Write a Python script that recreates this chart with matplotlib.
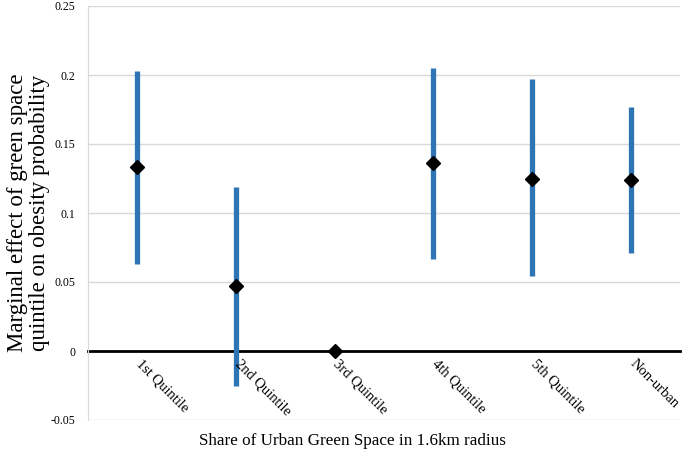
import matplotlib
matplotlib.use('Agg')
import matplotlib.pyplot as plt
import numpy as np

plt.rcParams['font.family'] = ['Liberation Serif', 'DejaVu Serif']

categories = ['1st Quintile', '2nd Quintile', '3rd Quintile', '4th Quintile', '5th Quintile', 'Non-urban']
estimate = [0.133, 0.047, 0.0, 0.136, 0.125, 0.124]
lower = [0.063, -0.025, 0.0, 0.067, 0.054, 0.071]
upper = [0.203, 0.119, 0.0, 0.205, 0.197, 0.177]
yticks = [-0.05, 0, 0.05, 0.1, 0.15, 0.2, 0.25]
ytick_labels = ['-0.05', '0', '0.05', '0.1', '0.15', '0.2', '0.25']

fig = plt.figure(figsize=(6.83, 4.57), dpi=100)
ax = fig.add_axes([88 / 683, 1 - 420 / 457, 592 / 683, 414 / 457])

x = np.arange(len(categories))
for i in range(len(categories)):
    if upper[i] != lower[i]:
        ax.vlines(x[i], lower[i], upper[i], color='#2E75B6', linewidth=3.8, zorder=3)
ax.plot(x, estimate, linestyle='none', marker='D', markersize=7,
        color='black', zorder=4, clip_on=False)

ax.set_xlim(-0.5, len(categories) - 0.5)
ax.set_ylim(-0.05, 0.25)
ax.set_yticks(yticks)
ax.set_yticklabels(ytick_labels, fontsize=8.5)
ax.yaxis.grid(True, color='#D9D9D9', linewidth=1)
ax.set_axisbelow(True)
ax.tick_params(axis='y', length=0, pad=9)
ax.tick_params(axis='x', length=0)

ax.spines['top'].set_visible(False)
ax.spines['right'].set_visible(False)
ax.spines['left'].set_color('#D9D9D9')
ax.spines['bottom'].set_position(('data', 0))
ax.spines['bottom'].set_color('black')
ax.spines['bottom'].set_linewidth(2)
ax.spines['bottom'].set_zorder(2)

ax.set_xticks(x)
ax.set_xticklabels([])
for i, lab in enumerate(categories):
    ax.annotate(lab, xy=(x[i], 0), xytext=(4, -4.5), textcoords='offset points',
                rotation=-45, ha='left', va='top', rotation_mode='anchor', fontsize=10.5)

ax.set_ylabel('Marginal effect of green space\nquintile on obesity probability',
              fontsize=16.5, linespacing=1.1)
ax.yaxis.set_label_coords(-0.064, 0.5)
fig.text(352 / 683, 1 - 441 / 457, 'Share of Urban Green Space in 1.6km radius',
         ha='center', va='center', fontsize=12.3)

fig.savefig('out.png', dpi=100)
